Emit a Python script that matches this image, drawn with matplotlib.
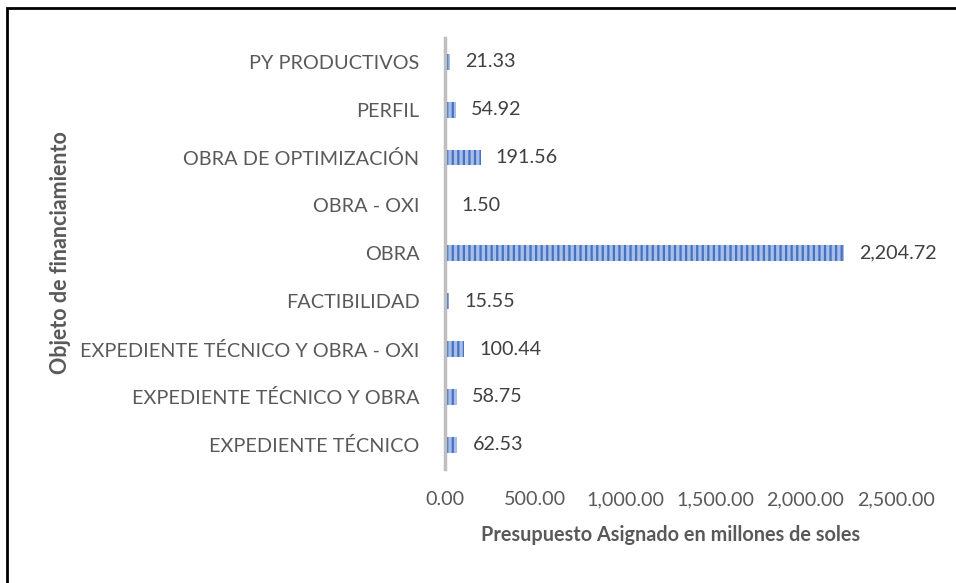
import matplotlib.pyplot as plt
from matplotlib.patches import Rectangle

categorias = ["EXPEDIENTE TÉCNICO", "EXPEDIENTE TÉCNICO Y OBRA",
              "EXPEDIENTE TÉCNICO Y OBRA - OXI", "FACTIBILIDAD", "OBRA",
              "OBRA - OXI", "OBRA DE OPTIMIZACIÓN", "PERFIL", "PY PRODUCTIVOS"]
presupuesto = [62.53, 58.75, 100.44, 15.55, 2204.72, 1.50, 191.56, 54.92, 21.33]
ticks_x = [0, 500, 1000, 1500, 2000, 2500]

plt.rcParams['font.family'] = ['Lato', 'DejaVu Sans']
plt.rcParams['hatch.linewidth'] = 1.6
plt.rcParams['hatch.color'] = '#4472C4'
gris = '#595959'

fig = plt.figure(figsize=(9.56, 5.83), dpi=100)
ax = fig.add_axes([0.465, 0.196, 0.472, 0.739])

pos = list(range(len(categorias)))
ax.barh(pos, presupuesto, height=0.33, left=8, color='#A9BEE6',
        edgecolor='#4472C4', hatch='|||', linewidth=0)
for p, v in zip(pos, presupuesto):
    ax.annotate(f"{v:,.2f}", (v + 8, p), xytext=(11, 0),
                textcoords='offset points', va='center', ha='left',
                fontsize=14.2, color='#404040')

ax.set_xlim(0, 2500)
ax.set_ylim(-0.5, len(categorias) - 0.5)
ax.set_yticks(pos)
ax.set_yticklabels(categorias, fontsize=14.3, color=gris)
ax.set_xticks(ticks_x)
ax.set_xticklabels([f"{t:,.2f}" for t in ticks_x], fontsize=14.2, color=gris)
ax.tick_params(length=0, axis='y', pad=18)
ax.tick_params(length=0, axis='x', pad=16)
for s in ['top', 'right', 'bottom']:
    ax.spines[s].set_visible(False)
ax.spines['left'].set_color('#BFBFBF')
ax.spines['left'].set_linewidth(2.5)

ax.set_xlabel("Presupuesto Asignado en millones de soles", fontsize=14.3,
              fontweight='bold', color=gris, labelpad=12)
fig.text(0.063, 0.566, "Objeto de financiamiento", rotation=90, fontsize=15.5,
         fontweight='bold', color=gris, ha='center', va='center')

fig.patches.append(Rectangle((7 / 956, -0.1), 1.2, 1 - 8 / 583 + 0.1,
                             transform=fig.transFigure, fill=False,
                             edgecolor='black', linewidth=2))

fig.savefig("out.png", dpi=100)
